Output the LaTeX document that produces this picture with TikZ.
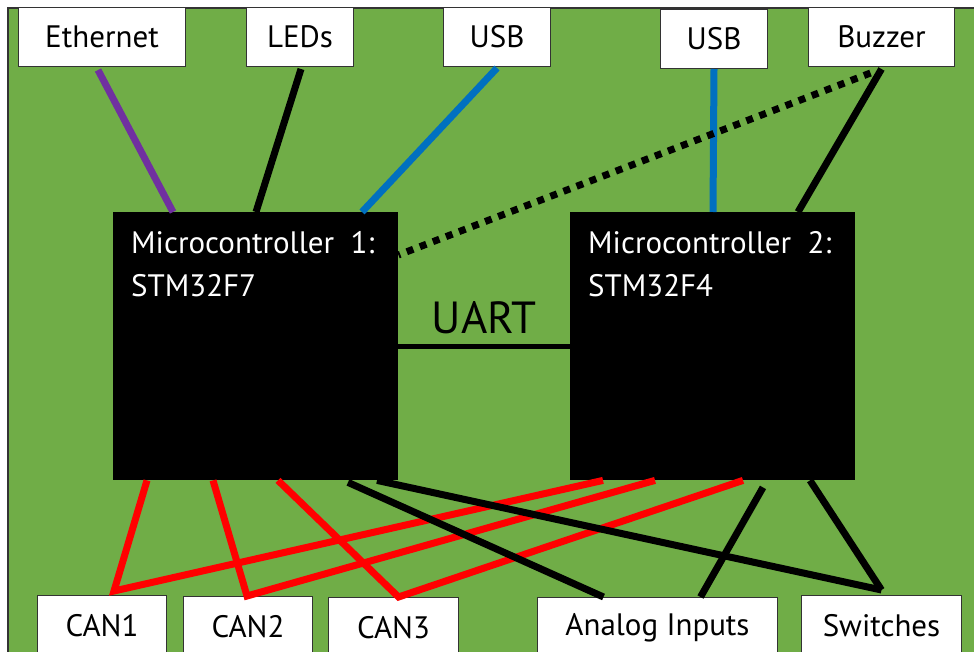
\documentclass[tikz,border=0pt]{standalone}
\usepackage{fontspec}
\setmainfont{PT Sans}
\usepackage{tikz}

\definecolor{board}{HTML}{70AD47}
\definecolor{ethcol}{HTML}{7030A0}
\definecolor{usbcol}{HTML}{0070C0}
\definecolor{cancol}{HTML}{FF0000}

\begin{document}
\begin{tikzpicture}[x=1pt,y=-1pt,
  box/.style={draw=black!80,line width=1pt,fill=white,inner sep=0pt,anchor=north west,
    minimum height=59,font=\fontsize{31}{36}\selectfont},
  mcu/.style={fill=black,inner sep=0pt,anchor=north west,minimum width=285,minimum height=268},
  mcutext/.style={white,inner sep=0pt,anchor=north west,align=left,font=\fontsize{31}{43}\selectfont},
  wire/.style={line width=7pt},
  canwire/.style={wire,cancol}]
\clip (0,0) rectangle (974,652);
\fill[white] (0,0) rectangle (974,652);
\fill[board] (8,8) rectangle (974,652);
\draw[line width=1.5pt,black!80] (8,652) -- (8,8) -- (974,8);

% top row
\node[box,minimum width=167] (eth) at (18,7) {Ethernet};
\node[box,minimum width=107] (leds) at (246,7) {LEDs};
\node[box,minimum width=107] (usba) at (443,7) {USB};
\node[box,minimum width=107] (usbb) at (660,9) {USB};
\node[box,minimum width=146] (buzz) at (808,7) {Buzzer};

% microcontrollers
\node[mcu] (m1) at (113,212) {};
\node[mcu] (m2) at (570,212) {};
\node[mcutext] (m1txt) at ([xshift=18,yshift=-19]m1.north west) {Microcontroller\ \ 1:\\STM32F7};
\node[mcutext] (m2txt) at ([xshift=18,yshift=-19]m2.north west) {Microcontroller\ \ 2:\\STM32F4};

% bottom row
\node[box,minimum width=129,minimum height=60] (can1) at (37,595) {CAN1};
\node[box,minimum width=129,minimum height=60] (can2) at (183,596) {CAN2};
\node[box,minimum width=130,minimum height=60] (can3) at (328,597) {CAN3};
\node[box,minimum width=240,minimum height=60] (ana) at (537,597) {Analog Inputs};
\node[box,minimum width=160,minimum height=60] (sw) at (801,595) {Switches};

% links to the top
\draw[wire,ethcol] ([xshift=-4,yshift=-3]eth.south) -- ([xshift=60]m1.north west);
\draw[wire] ([xshift=1,yshift=-2]leds.south) -- ([xshift=143]m1.north west);
\draw[wire,usbcol] ([yshift=-1]usba.south) -- ([xshift=249]m1.north west);
\draw[wire,usbcol] (usbb.south) -- ([xshift=143]m2.north west);
\draw[wire] ([yshift=-2]buzz.south) -- ([xshift=228]m2.north west);
\draw[wire,dash pattern=on 7pt off 7pt] ([xshift=-11,yshift=-6]buzz.south) -- ([yshift=-43]m1.north east);

% UART
\draw[line width=5pt] (m1.east) -- node[above=10pt,inner sep=0pt,font=\fontsize{45}{50}\selectfont] (uart) {UART} (m2.west);

% CAN buses
\draw[canwire] ([xshift=34]m1.south west) -- ([xshift=12,yshift=4]can1.north) -- ([xshift=33]m2.south west);
\draw[canwire] ([xshift=100]m1.south west) -- ([xshift=-1]can2.north) -- ([xshift=85]m2.south west);
\draw[canwire] ([xshift=165]m1.south west) -- ([xshift=5]can3.north) -- ([xshift=173]m2.south west);

% inputs
\draw[wire] ([xshift=235,yshift=-2]m1.south west) -- ([xshift=-54]ana.north);
\draw[wire] ([xshift=193,yshift=-7]m2.south west) -- ([xshift=43]ana.north);
\draw[wire] ([xshift=264]m1.south west) -- ([yshift=5]sw.north);
\draw[wire] ([xshift=240]m2.south west) -- ([yshift=5]sw.north);
\end{tikzpicture}
\end{document}
